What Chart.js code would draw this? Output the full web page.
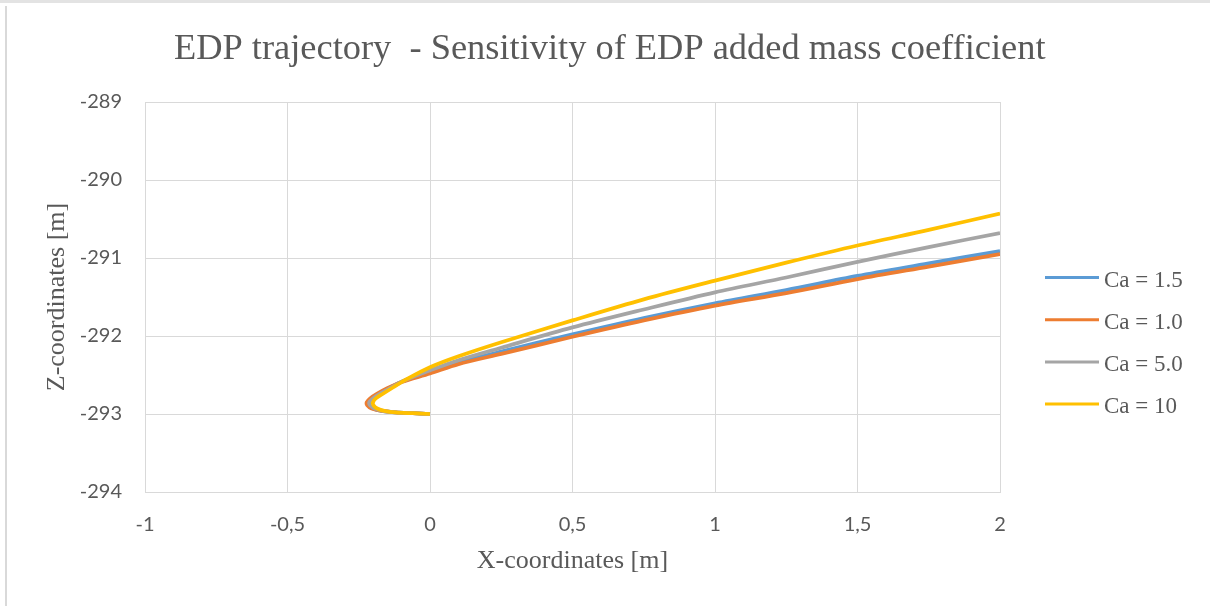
<!DOCTYPE html>
<html>
<head>
<meta charset="utf-8">
<title>EDP trajectory</title>
<script src="https://cdn.jsdelivr.net/npm/chart.js@4.4.1/dist/chart.umd.min.js"></script>
<style>
  html, body { margin: 0; padding: 0; background: #ffffff; }
  #wrap { position: relative; width: 1210px; height: 606px; }
  canvas { display: block; }
</style>
</head>
<body>
<div id="wrap"><canvas id="chart" width="1210" height="606"></canvas></div>
<script>
// Series labels and colours
const seriesLabels = ['Ca = 1.5', 'Ca = 1.0', 'Ca = 5.0', 'Ca = 10'];
const seriesColors = ['#5B9BD5', '#ED7D31', '#A5A5A5', '#FFC000'];

// X / Z coordinates [m] of each trajectory
const xCa15 = [0, -0.06, -0.12, -0.17, -0.2, -0.215, -0.218, -0.205, -0.18, -0.145, -0.095, 0, 0.1, 0.25, 0.5, 0.75, 1.0, 1.25, 1.5, 1.75, 2.0];
const zCa15 = [-293.0, -292.99, -292.98, -292.96, -292.93, -292.89, -292.85, -292.8, -292.74, -292.67, -292.58, -292.46, -292.34, -292.2, -291.98, -291.77, -291.58, -291.41, -291.23, -291.07, -290.91];

const xCa10 = [0, -0.06, -0.12, -0.17, -0.205, -0.22, -0.222, -0.21, -0.185, -0.15, -0.1, 0, 0.1, 0.25, 0.5, 0.75, 1.0, 1.25, 1.5, 1.75, 2.0];
const zCa10 = [-293.0, -292.99, -292.98, -292.96, -292.93, -292.89, -292.85, -292.8, -292.74, -292.67, -292.59, -292.48, -292.36, -292.23, -292.01, -291.8, -291.61, -291.45, -291.27, -291.11, -290.95];

const xCa50 = [0, -0.06, -0.12, -0.165, -0.195, -0.21, -0.213, -0.2, -0.175, -0.14, -0.09, 0, 0.1, 0.25, 0.5, 0.75, 1.0, 1.25, 1.5, 1.75, 2.0];
const zCa50 = [-293.0, -292.99, -292.98, -292.96, -292.93, -292.89, -292.85, -292.8, -292.74, -292.67, -292.57, -292.44, -292.31, -292.15, -291.89, -291.66, -291.44, -291.25, -291.05, -290.86, -290.68];

const xCa100 = [0, -0.06, -0.12, -0.16, -0.185, -0.198, -0.2, -0.19, -0.165, -0.13, -0.08, 0, 0.1, 0.25, 0.5, 0.75, 1.0, 1.25, 1.5, 1.75, 2.0];
const zCa100 = [-293.0, -292.99, -292.98, -292.96, -292.93, -292.89, -292.85, -292.8, -292.74, -292.66, -292.55, -292.4, -292.26, -292.08, -291.8, -291.53, -291.29, -291.06, -290.84, -290.64, -290.43];

// Axis ranges and tick spacing
const xTickRange = [-1, 2, 0.5];
const zTickRange = [-294, -289, 1];

const chartTitle = 'EDP trajectory  - Sensitivity of EDP added mass coefficient';
const xAxisTitle = 'X-coordinates [m]';
const zAxisTitle = 'Z-coordinates [m]';

const xSets = [xCa15, xCa10, xCa50, xCa100];
const zSets = [zCa15, zCa10, zCa50, zCa100];

const TEXT = '#595959';
const GRID = '#d9d9d9';
const SERIF = '"Liberation Serif", "Times New Roman", serif';
const SANS = 'Lato, "Open Sans", sans-serif';

const datasets = seriesLabels.map((label, i) => ({
  label,
  data: xSets[i].map((x, k) => ({ x, y: zSets[i][k] })),
  borderColor: seriesColors[i],
  backgroundColor: seriesColors[i],
  borderWidth: 3.75,
  showLine: true,
  pointRadius: 0,
  tension: 0.3,
  // later series are painted on top
  order: seriesLabels.length - i
}));

// Frame, title and legend drawn around the plot
const decorations = {
  id: 'decorations',
  beforeDraw(chart) {
    const { ctx, width, height } = chart;
    ctx.save();
    ctx.fillStyle = '#ffffff';
    ctx.fillRect(0, 0, width, height);
    ctx.fillStyle = '#e3e3e3';
    ctx.fillRect(0, 0, width, 3);
    ctx.fillStyle = '#d9d9d9';
    ctx.fillRect(5, 6, 2, height - 6);
    ctx.restore();
  },
  afterDraw(chart) {
    const { ctx } = chart;
    ctx.save();
    ctx.fillStyle = TEXT;
    ctx.textBaseline = 'alphabetic';
    ctx.textAlign = 'left';
    ctx.font = '36.4px ' + SERIF;
    ctx.fillText(chartTitle, 174, 59);

    ctx.font = '23px ' + SERIF;
    chart.data.datasets.forEach((ds, i) => {
      const yLine = 277.5 + i * 42.2;
      ctx.strokeStyle = ds.borderColor;
      ctx.lineWidth = 3;
      ctx.beginPath();
      ctx.moveTo(1045, yLine);
      ctx.lineTo(1099, yLine);
      ctx.stroke();
      ctx.fillStyle = TEXT;
      ctx.fillText(ds.label, 1104, yLine + 9);
    });
    ctx.restore();
  }
};

new Chart(document.getElementById('chart'), {
  type: 'scatter',
  data: { datasets },
  plugins: [decorations],
  options: {
    responsive: false,
    animation: false,
    devicePixelRatio: 1,
    layout: { padding: { top: 102, right: 210, bottom: 0, left: 0 } },
    plugins: {
      legend: { display: false },
      title: { display: false },
      tooltip: { enabled: false }
    },
    scales: {
      x: {
        type: 'linear',
        min: xTickRange[0],
        max: xTickRange[1],
        afterFit: s => { s.height = 114; },
        ticks: {
          stepSize: xTickRange[2],
          padding: 21,
          color: TEXT,
          font: { family: SANS, size: 20 },
          callback: v => String(v).replace('.', ',')
        },
        grid: { color: GRID, lineWidth: 1, drawTicks: false },
        border: { color: GRID, width: 1 },
        title: {
          display: true,
          text: xAxisTitle,
          color: TEXT,
          font: { family: SERIF, size: 26 },
          padding: { top: 0, bottom: 29 }
        }
      },
      y: {
        type: 'linear',
        min: zTickRange[0],
        max: zTickRange[1],
        afterFit: s => { s.width = 145; },
        ticks: {
          stepSize: zTickRange[2],
          padding: 23,
          color: TEXT,
          font: { family: SANS, size: 20 },
          callback: v => String(v)
        },
        grid: { color: GRID, lineWidth: 1, drawTicks: false },
        border: { color: GRID, width: 1 },
        title: {
          display: true,
          text: zAxisTitle,
          color: TEXT,
          font: { family: SERIF, size: 26 },
          padding: { top: 42, bottom: 0 }
        }
      }
    }
  }
});
</script>
</body>
</html>
